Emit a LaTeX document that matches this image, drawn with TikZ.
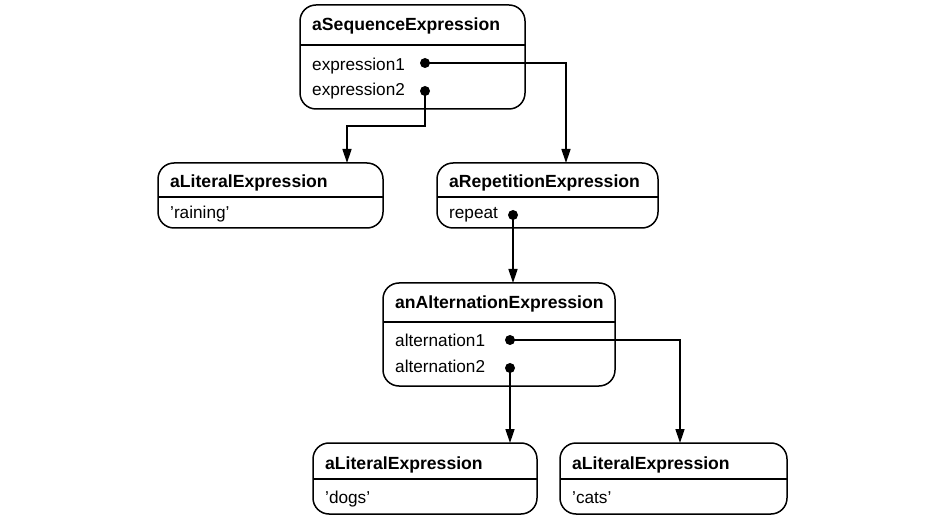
\documentclass[tikz,border=0pt]{standalone}
\usepackage{fontspec}
\setmainfont{Liberation Sans}
\usetikzlibrary{arrows.meta}
\begin{document}
\begin{tikzpicture}[x=1pt,y=-1pt,
  objbox/.style={draw,line width=1.5pt,rounded corners=16pt,inner sep=0pt},
  divider/.style={line width=1.4pt},
  hdr/.style={anchor=base west,inner sep=0pt,font=\fontsize{17.6}{20}\selectfont\bfseries},
  txt/.style={anchor=base west,inner sep=0pt,font=\fontsize{17.2}{20}\selectfont},
  dot/.style={circle,fill=black,inner sep=0pt,minimum size=10pt},
  conn/.style={line width=1.5pt,-{Triangle[length=14pt,width=9pt]}}]
\useasboundingbox (0,0) rectangle (950,526);
% boxes (pixel coordinates, y downward)
\draw[objbox] (300,5) rectangle (525,109);
\draw[divider] (300,45) -- (525,45);
\node[hdr] (seqh) at (312,31) {aSequenceExpression};
\node[txt] (seqe1) at (312,71) {expression1};
\node[txt] (seqe2) at (312,96) {expression2};
\node[dot] (e1) at (425,63) {};
\node[dot] (e2) at (425,91) {};

\draw[objbox] (158,163) rectangle (383,228);
\draw[divider] (158,197) -- (383,197);
\node[hdr] (lit1h) at (170,188) {aLiteralExpression};
\node[txt] (lit1t) at (170,219) {'raining'};

\draw[objbox] (437,163) rectangle (658,228);
\draw[divider] (437,197) -- (658,197);
\node[hdr] (reph) at (449,188) {aRepetitionExpression};
\node[txt] (rept) at (449,219) {repeat};
\node[dot] (rp) at (513,215) {};

\draw[objbox] (383,283) rectangle (615,386);
\draw[divider] (383,322) -- (615,322);
\node[hdr] (alth) at (395,309) {anAlternationExpression};
\node[txt] (alt1) at (395,347) {alternation1};
\node[txt] (alt2) at (395,373) {alternation2};
\node[dot] (a1) at (510,340) {};
\node[dot] (a2) at (510,368) {};

\draw[objbox] (313,443) rectangle (537,514);
\draw[divider] (313,479) -- (537,479);
\node[hdr] (dogsh) at (325,469) {aLiteralExpression};
\node[txt] (dogst) at (325,503) {'dogs'};

\draw[objbox] (560,443) rectangle (787,514);
\draw[divider] (560,479) -- (787,479);
\node[hdr] (catsh) at (572,469) {aLiteralExpression};
\node[txt] (catst) at (572,503) {'cats'};

% connector targets on box tops
\coordinate (repin) at (566,163);
\coordinate (lit1in) at (347,163);
\coordinate (altin) at (513,283);
\coordinate (dogsin) at (510,443);
\coordinate (catsin) at (680,443);
\coordinate (bend) at (425,126);

\draw[conn] (e1.center) -| (repin);
\draw[conn] (e2.center) -- (bend) -| (lit1in);
\draw[conn] (rp.center) -- (altin);
\draw[conn] (a1.center) -| (catsin);
\draw[conn] (a2.center) -- (dogsin);
\end{tikzpicture}
\end{document}
